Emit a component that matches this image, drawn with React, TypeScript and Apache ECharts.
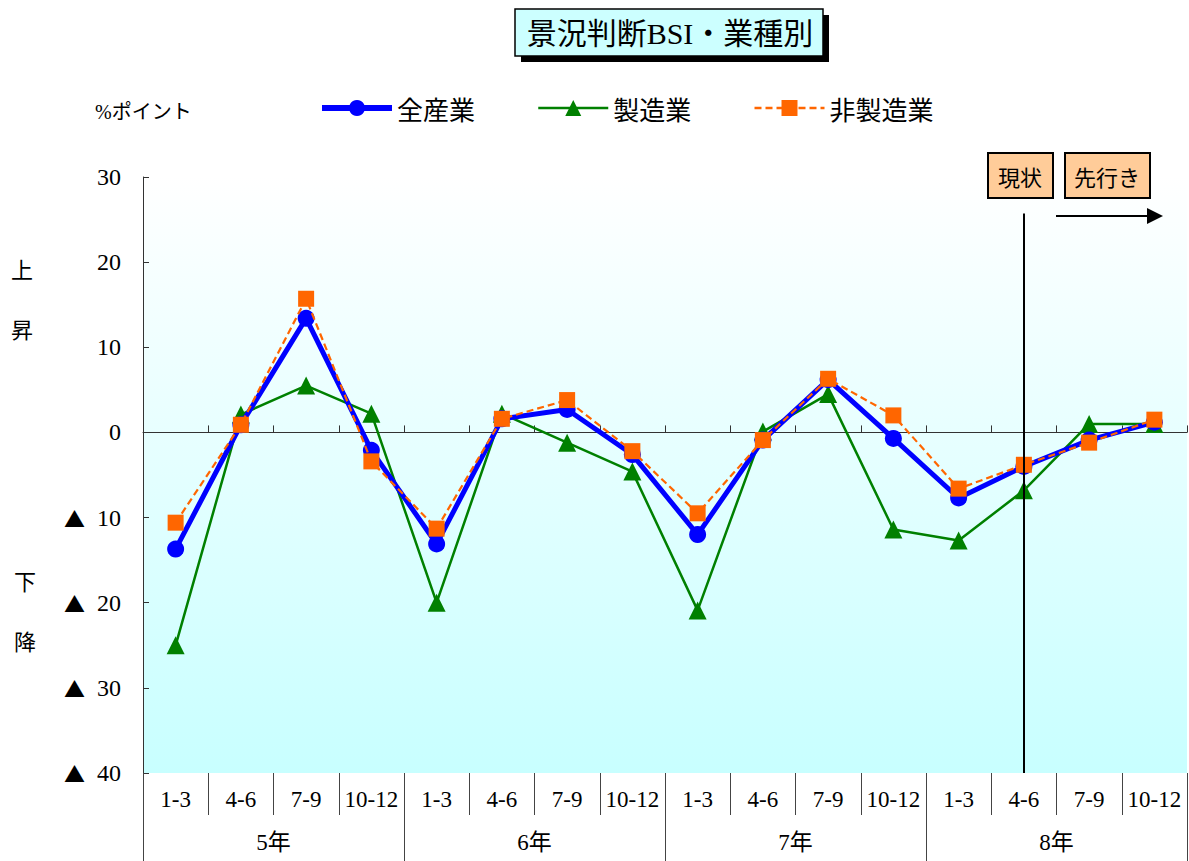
import React, { useEffect, useRef } from "react";
import * as echarts from "echarts";

const quarters = ["1-3", "4-6", "7-9", "10-12"];
const years = ["5年", "6年", "7年", "8年"];
const categories = years.flatMap((y) => quarters.map((q) => `${y}${q}`));
const quarterLabels = years.flatMap(() => quarters);

const allIndustries = [-13.7, 0.9, 13.4, -2.1, -13.1, 1.6, 2.7, -2.6, -12.0, -0.9, 6.2, -0.7, -7.7, -4.0, -0.9, 1.2];
const manufacturing = [-25.0, 2.1, 5.5, 2.2, -20.0, 2.2, -1.2, -4.6, -20.9, 0.1, 4.5, -11.4, -12.7, -6.8, 1.0, 1.0];
const nonManufacturing = [-10.6, 0.9, 15.7, -3.4, -11.3, 1.6, 3.8, -2.2, -9.5, -0.9, 6.3, 2.0, -6.6, -3.8, -1.2, 1.5];

const seriesNames = ["全産業", "製造業", "非製造業"];
const yTicks = { min: -40, max: 30, interval: 10 };
const currentIndex = 13;

const SERIF = "'Liberation Serif', 'DejaVu Serif', 'Noto Sans CJK JP', serif";
const JP = "'Noto Sans CJK JP', 'Liberation Serif', sans-serif";

export default function App() {
  const ref = useRef<HTMLDivElement>(null);

  useEffect(() => {
    if (!ref.current) return;
    const chart = echarts.init(ref.current, undefined, { renderer: "svg" });
    const option: any = {
      animation: false,
      backgroundColor: "#ffffff",
      textStyle: { fontFamily: SERIF },
      grid: {
        left: 143,
        right: 2,
        top: 177,
        bottom: 88,
        show: true,
        borderWidth: 0,
        backgroundColor: new echarts.graphic.LinearGradient(0, 0, 0, 1, [
          { offset: 0, color: "#ffffff" },
          { offset: 1, color: "#c8ffff" },
        ]),
      },
      legend: {
        left: 314,
        top: 90,
        itemWidth: 70,
        itemHeight: 20,
        itemGap: 62,
        textStyle: { fontSize: 26, fontFamily: JP, color: "#000" },
        data: [
          { name: seriesNames[0], lineStyle: { width: 6 } },
          { name: seriesNames[1], lineStyle: { width: 2.5 } },
          { name: seriesNames[2], lineStyle: { width: 2.5 } },
        ],
      },
      xAxis: [
        {
          type: "category",
          data: categories,
          boundaryGap: true,
          position: "bottom",
          axisLine: { show: true, onZero: true, lineStyle: { color: "#333", width: 1 } },
          axisTick: { show: true, inside: true, length: 7, lineStyle: { color: "#333" } },
          axisLabel: { show: false },
          splitLine: { show: false },
        },
        {
          type: "category",
          data: quarterLabels,
          boundaryGap: true,
          position: "bottom",
          axisLine: { show: false, onZero: false },
          axisTick: { show: true, length: 42, lineStyle: { color: "#444" } },
          axisLabel: { show: true, margin: 15, fontSize: 23, color: "#000", fontFamily: SERIF, interval: 0 },
        },
        {
          type: "category",
          data: years,
          boundaryGap: true,
          position: "bottom",
          axisLine: { show: false, onZero: false },
          axisTick: { show: true, length: 88, lineStyle: { color: "#444" } },
          axisLabel: { show: true, margin: 58, fontSize: 23, color: "#000", fontFamily: SERIF, interval: 0 },
        },
      ],
      yAxis: {
        type: "value",
        min: yTicks.min,
        max: yTicks.max,
        interval: yTicks.interval,
        axisLine: { show: true, lineStyle: { color: "#333", width: 1 } },
        axisTick: { show: true, inside: true, length: 6, lineStyle: { color: "#333" } },
        splitLine: { show: false },
        axisLabel: {
          margin: 22,
          fontSize: 24,
          color: "#000",
          fontFamily: SERIF,
          formatter: (v: number) => (v < 0 ? `{tri|▲}  ${-v}` : `${v}`),
          rich: {
            tri: { fontFamily: JP, fontSize: 21, color: "#000" },
          },
        },
      },
      series: [
        {
          name: seriesNames[0],
          type: "line",
          data: allIndustries,
          z: 3,
          symbol: "circle",
          symbolSize: 17,
          itemStyle: { color: "#0000ff" },
          lineStyle: { color: "#0000ff", width: 5 },
          markLine: {
            silent: true,
            symbol: "none",
            label: { show: false },
            lineStyle: { color: "#000", width: 2, type: "solid" },
            data: [[{ coord: [currentIndex, 25.7] }, { coord: [currentIndex, yTicks.min] }]],
          },
        },
        {
          name: seriesNames[1],
          type: "line",
          data: manufacturing,
          z: 2,
          symbol: "triangle",
          symbolSize: 18,
          itemStyle: { color: "#008000" },
          lineStyle: { color: "#008000", width: 2.5 },
        },
        {
          name: seriesNames[2],
          type: "line",
          data: nonManufacturing,
          z: 4,
          symbol: "rect",
          symbolSize: 16,
          itemStyle: { color: "#ff6600" },
          lineStyle: { color: "#ff6600", width: 2.2, type: [7, 4] },
        },
      ],
      graphic: [
        { type: "rect", shape: { x: 521, y: 15, width: 308, height: 47 }, style: { fill: "#000" }, z: 10 },
        { type: "rect", shape: { x: 515, y: 9, width: 308, height: 47 }, style: { fill: "#ccffff", stroke: "#000", lineWidth: 1.5 }, z: 11 },
        {
          type: "text",
          x: 670,
          y: 33,
          z: 12,
          style: { text: "景況判断BSI・業種別", font: `30px ${SERIF}`, fill: "#000", align: "center", verticalAlign: "middle" },
        },
        {
          type: "text",
          x: 95,
          y: 112,
          style: { text: "%ポイント", font: `20px ${SERIF}`, fill: "#000", align: "left", verticalAlign: "middle" },
        },
        { type: "text", x: 22, y: 268, style: { text: "上", font: `22px ${JP}`, fill: "#000", align: "center", verticalAlign: "middle" } },
        { type: "text", x: 22, y: 328, style: { text: "昇", font: `22px ${JP}`, fill: "#000", align: "center", verticalAlign: "middle" } },
        { type: "text", x: 25, y: 580, style: { text: "下", font: `22px ${JP}`, fill: "#000", align: "center", verticalAlign: "middle" } },
        { type: "text", x: 25, y: 640, style: { text: "降", font: `22px ${JP}`, fill: "#000", align: "center", verticalAlign: "middle" } },
        { type: "rect", shape: { x: 988, y: 153, width: 65, height: 45 }, style: { fill: "#ffcc99", stroke: "#000", lineWidth: 2 }, z: 10 },
        { type: "text", x: 1020, y: 176, z: 11, style: { text: "現状", font: `22px ${JP}`, fill: "#000", align: "center", verticalAlign: "middle" } },
        { type: "rect", shape: { x: 1065, y: 153, width: 85, height: 45 }, style: { fill: "#ffcc99", stroke: "#000", lineWidth: 2 }, z: 10 },
        { type: "text", x: 1107, y: 176, z: 11, style: { text: "先行き", font: `22px ${JP}`, fill: "#000", align: "center", verticalAlign: "middle" } },
        { type: "line", shape: { x1: 1056, y1: 216, x2: 1150, y2: 216 }, style: { stroke: "#000", lineWidth: 2 }, z: 10 },
        { type: "polygon", shape: { points: [[1163, 216], [1147, 208], [1147, 224]] }, style: { fill: "#000" }, z: 10 },
      ],
    };
    chart.setOption(option);
    return () => chart.dispose();
  }, []);

  return (
    <div
      ref={ref}
      style={{ position: "fixed", left: 0, top: 0, width: 1189, height: 861 }}
    />
  );
}
